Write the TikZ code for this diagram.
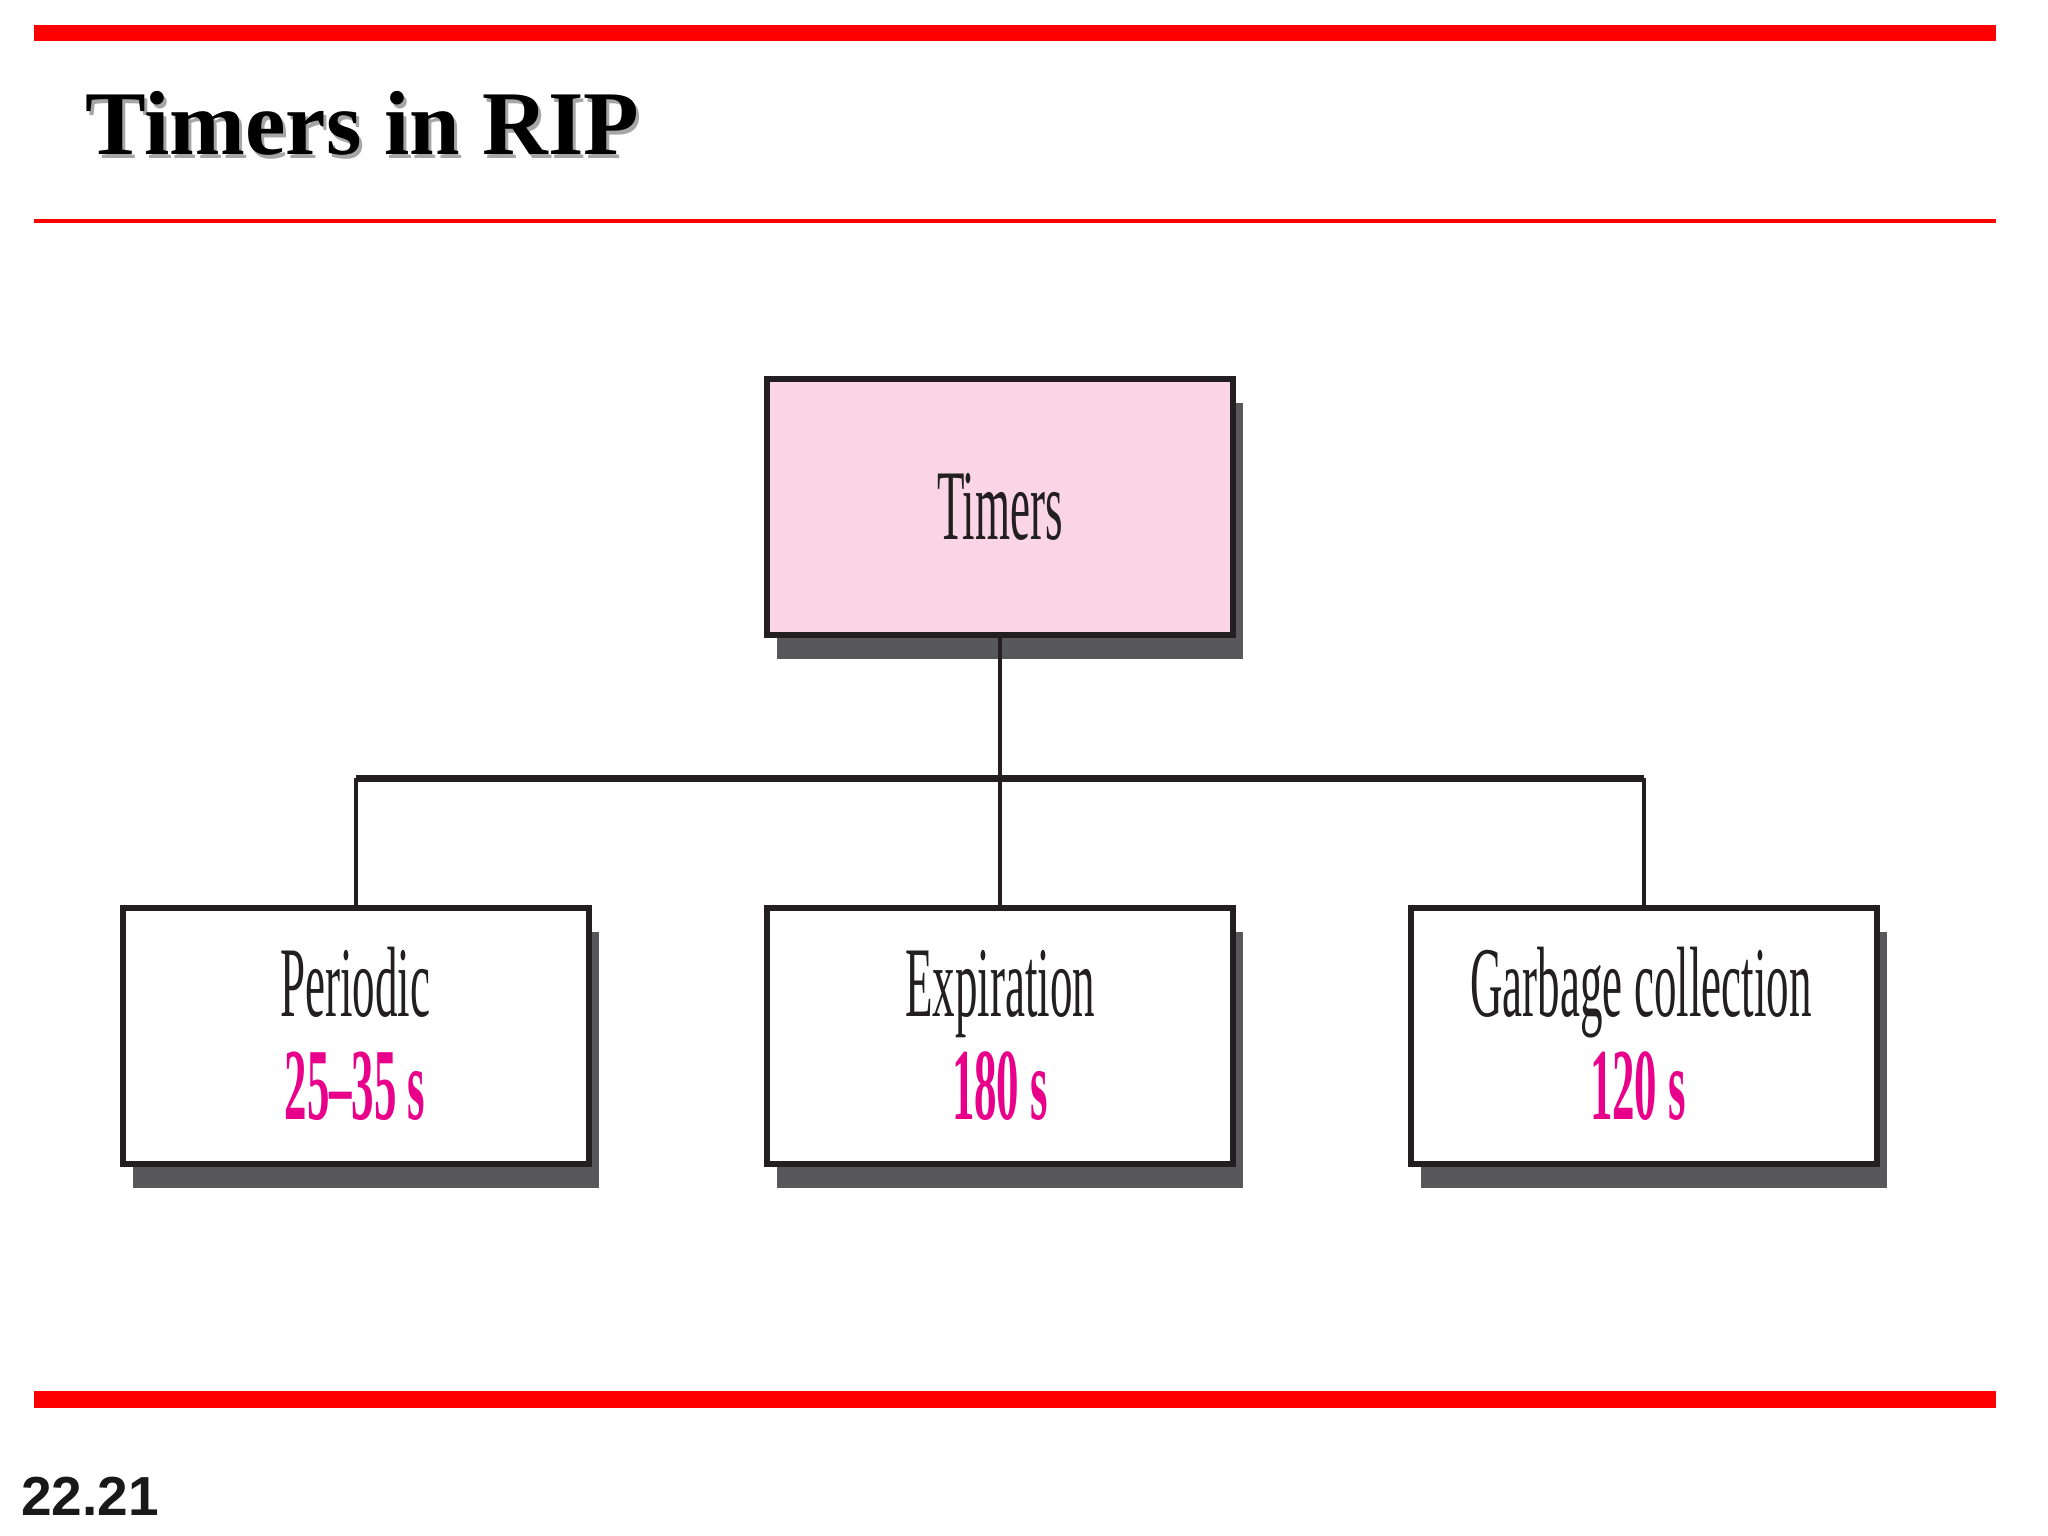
\documentclass[tikz,border=0pt]{standalone}
\usepackage{fontspec}
\setmainfont{Liberation Serif}
\newfontfamily\condfont[FakeStretch=0.45]{Liberation Serif}
\newfontfamily\condboldfont[FakeStretch=0.44]{Liberation Serif Bold}
\newfontfamily\pagenofont{Liberation Sans}
\usetikzlibrary{shadows}
\definecolor{barred}{HTML}{FF0000}
\definecolor{pinkfill}{HTML}{F9D5E5}
\definecolor{valmag}{HTML}{E8008A}
\definecolor{shadegray}{HTML}{58585A}
\definecolor{edgecol}{HTML}{231F20}
\tikzset{
  tbox/.style={draw=edgecol, line width=5.5pt, minimum width=466pt, minimum height=256pt,
    inner sep=0pt, fill=white,
    drop shadow={shadow xshift=10pt, shadow yshift=-24pt, opacity=1, fill=shadegray}},
  conn/.style={draw=edgecol, line width=4.5pt},
  busline/.style={draw=edgecol, line width=7pt},
  lbl/.style={anchor=base, inner sep=0pt, text=edgecol, font=\condfont\fontsize{100}{100}\selectfont},
  val/.style={anchor=base, inner sep=0pt, text=valmag, font=\condboldfont\fontsize{102}{102}\selectfont},
}
\begin{document}
\begin{tikzpicture}[x=1pt,y=-1pt]
\useasboundingbox (0,0) rectangle (2048,1536);
\fill[white] (0,0) rectangle (2048,1536);
% red rules
\draw[barred, line width=16pt] (34,33) -- (1996,33);
\draw[barred, line width=4pt] (34,221) -- (1996,221);
\draw[barred, line width=17pt] (34,1399) -- (1996,1399);
% title with shadow
\node[anchor=base west, inner sep=0pt, text=black!35, font=\bfseries\fontsize{91}{95}\selectfont] (titleshadow) at (88,158) {Timers in RIP};
\node[anchor=base west, inner sep=0pt, text=black, font=\bfseries\fontsize{91}{95}\selectfont] (title) at (85,155) {Timers in RIP};
% boxes
\node[tbox, fill=pinkfill] (timers) at (1000,507) {};
\node[tbox] (per) at (356,1036) {};
\node[tbox] (exp) at (1000,1036) {};
\node[tbox] (gar) at (1644,1036) {};
% connectors
\coordinate (bus) at (1000,778);
\draw[conn] (timers.south) -- (bus);
\draw[busline] (per.north |- bus) -- (gar.north |- bus);
\draw[conn] (bus) -- (exp.north);
\draw[conn] (per.north |- bus) -- (per.north);
\draw[conn] (gar.north |- bus) -- (gar.north);
% texts
\node[lbl] (timerstxt) at (1000,539) {Timers};
\node[lbl] (pertxt) at (355,1016) {Periodic};
\node[val] (perval) at (355,1119) {25–35 s};
\node[lbl] (exptxt) at (1000,1016) {Expiration};
\node[val] (expval) at (1000,1119) {180 s};
\node[lbl] (gartxt) at (1641,1016) {Garbage collection};
\node[val] (garval) at (1638,1119) {120 s};
% page number
\node[anchor=base west, inner sep=0pt, text=black!90, font=\pagenofont\bfseries\fontsize{55}{60}\selectfont] (pageno) at (21,1515) {22.21};
\end{tikzpicture}
\end{document}
